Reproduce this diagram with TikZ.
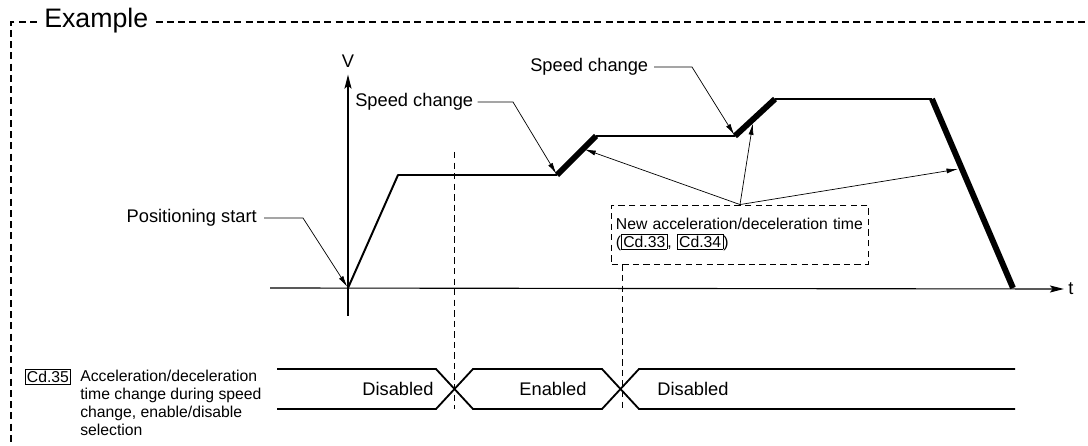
\documentclass[tikz,border=0pt]{standalone}
\usepackage{fontspec}
\setmainfont{Liberation Sans}
\usepackage{tikz}
\usetikzlibrary{positioning,arrows.meta,calc}
\newcommand{\cdref}[1]{{\setlength{\fboxsep}{1pt}\setlength{\fboxrule}{0.5pt}\fbox{#1}}}
\tikzset{
  axisline/.style={draw,line width=0.8pt,-{Stealth[length=10pt,width=5pt,inset=2pt]}},
  profile/.style={draw,line width=1.4pt,line join=round},
  accel/.style={draw,line width=4.2pt},
  leader/.style={draw,line width=0.5pt,-{Latex[length=8pt,width=3.6pt]},shorten >=1pt},
  frame/.style={draw,line width=1.1pt,dash pattern=on 5pt off 3pt},
  guide/.style={draw,line width=0.6pt,dash pattern=on 4.5pt off 3pt},
  sig/.style={draw,line width=1.3pt,line join=miter},
  lbl/.style={font=\fontsize{13}{15}\selectfont,inner sep=0pt},
  note/.style={font=\fontsize{11.2}{12.8}\selectfont,inner sep=0pt},
}
\begin{document}
\begin{tikzpicture}[x=0.025cm,y=-0.025cm]
\useasboundingbox (0,0) rectangle (1088,446);

% outer frame
\coordinate (fl) at (11,22);
\node[lbl,font=\fontsize{19}{22}\selectfont,anchor=base west] (ex) at (44,28) {Example};
\draw[frame] ([xshift=-5pt]ex.west |- fl) -- (fl) -- (11,446);
\draw[frame] ([xshift=5pt]ex.east |- fl) -- (1088,22);

% axes
\node[lbl] (v) at (348,61) {V};
\node[lbl] (t) at (1071,289) {t};
\draw[axisline] (348,316) -- ([yshift=-5pt]v.south);
\draw[axisline] (270,288) -- ([xshift=-3pt]t.west);

% speed profile
\coordinate (p0) at (348,288);
\coordinate (p1) at (398,175);
\coordinate (p2) at (557,175);
\coordinate (p3) at (596,136);
\coordinate (p4) at (735,136);
\coordinate (p5) at (775,99);
\coordinate (p6) at (932,99);
\coordinate (p7) at (1013,288);
\draw[profile] (p0) -- (p1) -- (p2);
\draw[accel] (p2) -- (p3);
\draw[profile] (p3) -- (p4);
\draw[accel] (p4) -- (p5);
\draw[profile] (p5) -- (p6);
\draw[accel] (p6) -- (p7);

% labels with leaders
\node[lbl,anchor=east] (ps) at (257,218) {Positioning start};
\draw[leader] ([xshift=5pt]ps.east) -- (303,218) -- (p0);
\node[lbl,anchor=west] (sc1) at (355,102) {Speed change};
\draw[leader] ([xshift=3pt]sc1.east) -- (513,102) -- (p2);
\node[lbl,anchor=west] (sc2) at (530,67) {Speed change};
\draw[leader] ([xshift=4pt]sc2.east) -- (692,67) -- (p4);

% new acc/dec time box
\node[note,guide,align=left,inner xsep=3pt,minimum width=6.4cm,minimum height=1.475cm,text width=6.2cm] (nt) at (740,234.5)
  {New acceleration/deceleration time\\(\cdref{Cd.33}, \cdref{Cd.34})\\[2pt]};
\draw[leader] (nt.north) -- ([shift={(2pt,2pt)}]$(p2)!0.6!(p3)$);
\draw[leader] (nt.north) -- ([yshift=-2pt]$(p4)!0.45!(p5)$);
\draw[leader] (nt.north) -- ([xshift=-2pt]$(p6)!0.37!(p7)$);

% guide lines
\draw[guide] (454,152) -- (454,409);
\draw[guide] ([xshift=8]nt.south west) -- ++(0,145);

% Cd.35 signal
\node[note,draw,line width=0.5pt,inner sep=1pt] (cd) at (48,377) {Cd.35};
\node[note,anchor=north west,align=left] (cdtxt) at (80,370)
  {Acceleration/deceleration\\time change during speed\\change, enable/disable\\selection};
\draw[sig] (277,369) -- (436,369) -- (473,409) -- (602,409) -- (639,369) -- (1015,369);
\draw[sig] (277,409) -- (436,409) -- (473,369) -- (602,369) -- (639,409) -- (1015,409);
\node[lbl] (d1) at (398,389) {Disabled};
\node[lbl] (en) at (553,389) {Enabled};
\node[lbl] (d2) at (693,389) {Disabled};

\end{tikzpicture}
\end{document}
